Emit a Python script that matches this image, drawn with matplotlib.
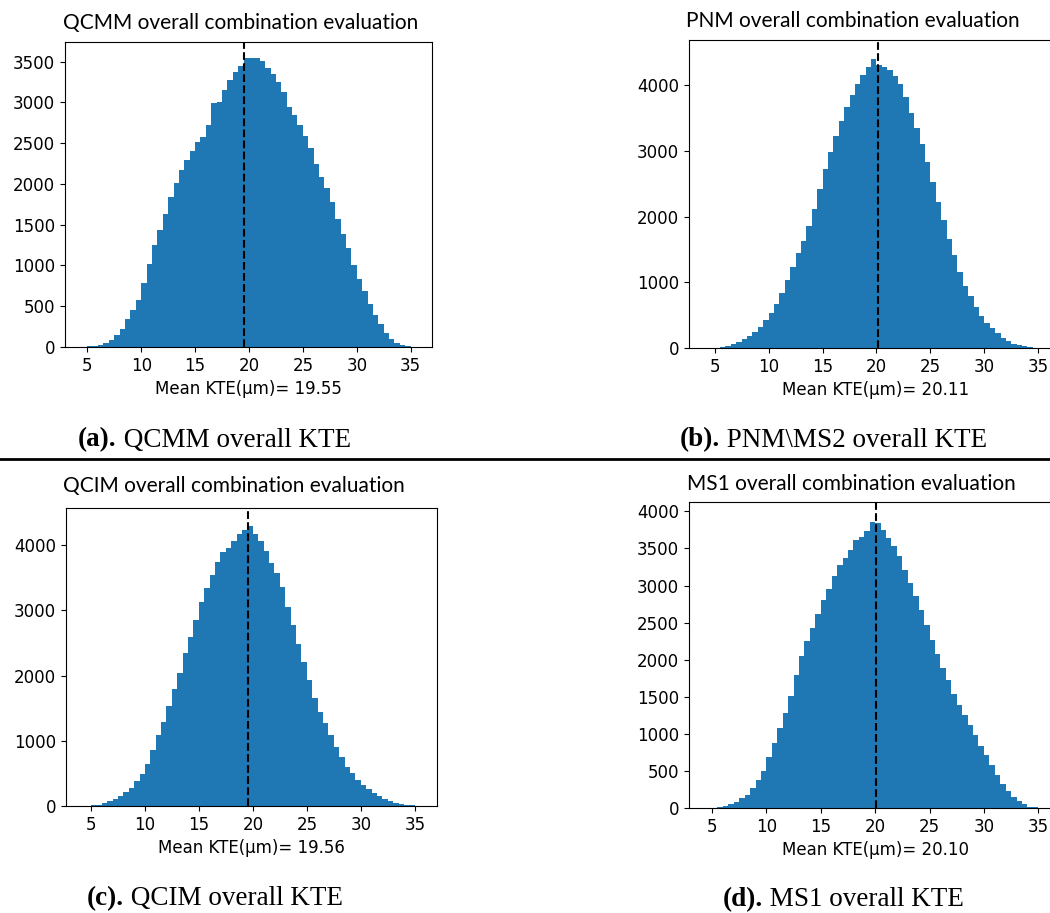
import numpy as np
import matplotlib
matplotlib.use("Agg")
import matplotlib.pyplot as plt
from matplotlib.lines import Line2D

# bin edges (0.5 wide) shared by all four panels
edges = np.arange(4.5, 35.51, 0.5)
centers = (edges[:-1] + edges[1:]) / 2

# counts, one value per 0.5 bin from 4.75 to 35.25
qcmm = [5, 8, 14, 28, 55, 90, 150, 215, 340, 455, 580, 790, 1020, 1250, 1440, 1630,
        1840, 2010, 2170, 2300, 2410, 2520, 2580, 2720, 2990, 3010, 3150, 3270, 3370,
        3450, 3550, 3540, 3550, 3510, 3420, 3350, 3250, 3130, 2940, 2850, 2720, 2590,
        2440, 2240, 2080, 1950, 1780, 1570, 1390, 1210, 1010, 840, 690, 530, 390, 280,
        175, 100, 50, 25, 12, 5]
pnm = [3, 6, 12, 30, 60, 90, 130, 185, 245, 320, 420, 535, 675, 840, 1030, 1230, 1440,
       1630, 1850, 2120, 2420, 2730, 2980, 3220, 3450, 3670, 3850, 4010, 4150, 4270,
       4400, 4300, 4280, 4230, 4140, 4020, 3820, 3570, 3350, 3100, 2830, 2530, 2220,
       1940, 1660, 1410, 1160, 950, 790, 620, 490, 380, 300, 230, 155, 100, 68, 48, 28,
       12, 5, 2]
qcim = [3, 8, 20, 40, 70, 110, 160, 210, 275, 380, 495, 640, 860, 1090, 1290, 1535,
        1790, 2045, 2340, 2600, 2850, 3130, 3350, 3540, 3750, 3890, 3960, 4070, 4170,
        4230, 4300, 4180, 4070, 3910, 3730, 3580, 3360, 3050, 2770, 2490, 2210, 1930,
        1650, 1440, 1280, 1090, 910, 745, 600, 500, 400, 320, 260, 195, 150, 110, 80,
        52, 32, 18, 8, 3]
ms1 = [2, 5, 12, 28, 48, 85, 130, 180, 270, 380, 505, 685, 875, 1080, 1280, 1505, 1800,
       2045, 2250, 2430, 2610, 2800, 2955, 3125, 3270, 3370, 3480, 3610, 3660, 3730,
       3850, 3840, 3750, 3640, 3530, 3395, 3215, 3035, 2855, 2675, 2470, 2270, 2070,
       1890, 1720, 1540, 1390, 1260, 1120, 980, 840, 720, 580, 450, 325, 235, 155, 88,
       48, 20, 7, 2]

means = [19.55, 20.11, 19.56, 20.10]
titles = ["QCMM overall combination evaluation", "PNM overall combination evaluation",
          "QCIM overall combination evaluation", "MS1 overall combination evaluation"]
tags = ["(a).", "(b).", "(c).", "(d)."]
captions = [" QCMM overall KTE", " PNM\\MS2 overall KTE", " QCIM overall KTE", " MS1 overall KTE"]
series = [qcmm, pnm, qcim, ms1]

W, H = 1050, 913
# pixel boxes: left, right, top, bottom
boxes = [(65, 432, 42, 347), (689, 1062, 40, 348), (66, 437, 508, 806), (689, 1062, 502, 808)]
xlims = [(2.93, 36.98), (2.62, 37.2), (2.69, 37.06), (2.88, 37.18)]
ylims = [3742, 4686, 4572, 4126]
ysteps = [500, 1000, 1000, 500]
title_pos = [(63, 28.5), (686, 27), (63, 492), (687, 490)]
cap_pos = [(78, 446.5), (680, 446.5), (87, 905), (723, 906)]

fig = plt.figure(figsize=(W / 100, H / 100), dpi=100)

for i in range(4):
    l, r, t, b = boxes[i]
    ax = fig.add_axes([l / W, 1 - b / H, (r - l) / W, (b - t) / H])
    ax.hist(centers, bins=edges, weights=series[i], color="#1f77b4")
    ax.axvline(means[i], color="k", ls="--", lw=1.5)
    ax.set_xlim(*xlims[i])
    ax.set_ylim(0, ylims[i])
    ax.set_xticks([5, 10, 15, 20, 25, 30, 35])
    ax.set_yticks(np.arange(0, ylims[i], ysteps[i]))
    ax.tick_params(labelsize=12)
    ax.set_xlabel("Mean KTE(µm)= %.2f" % means[i], fontsize=12)
    fig.text(title_pos[i][0] / W, 1 - title_pos[i][1] / H, titles[i],
             family="Lato", fontsize=15, ha="left", va="baseline")

fig.add_artist(Line2D([0, 1], [1 - 459 / H, 1 - 459 / H], transform=fig.transFigure,
                      color="k", lw=2))

fig.canvas.draw()
rend = fig.canvas.get_renderer()
for i in range(4):
    x0, y0 = cap_pos[i]
    t1 = fig.text(x0 / W, 1 - y0 / H, tags[i], family="Liberation Serif",
                  fontweight="bold", fontsize=19.5, ha="left", va="baseline")
    bb = t1.get_window_extent(rend)
    fig.text(bb.x1 / W, 1 - y0 / H, captions[i], family="Liberation Serif",
             fontsize=19.5, ha="left", va="baseline")

fig.savefig("out.png", dpi=100)
